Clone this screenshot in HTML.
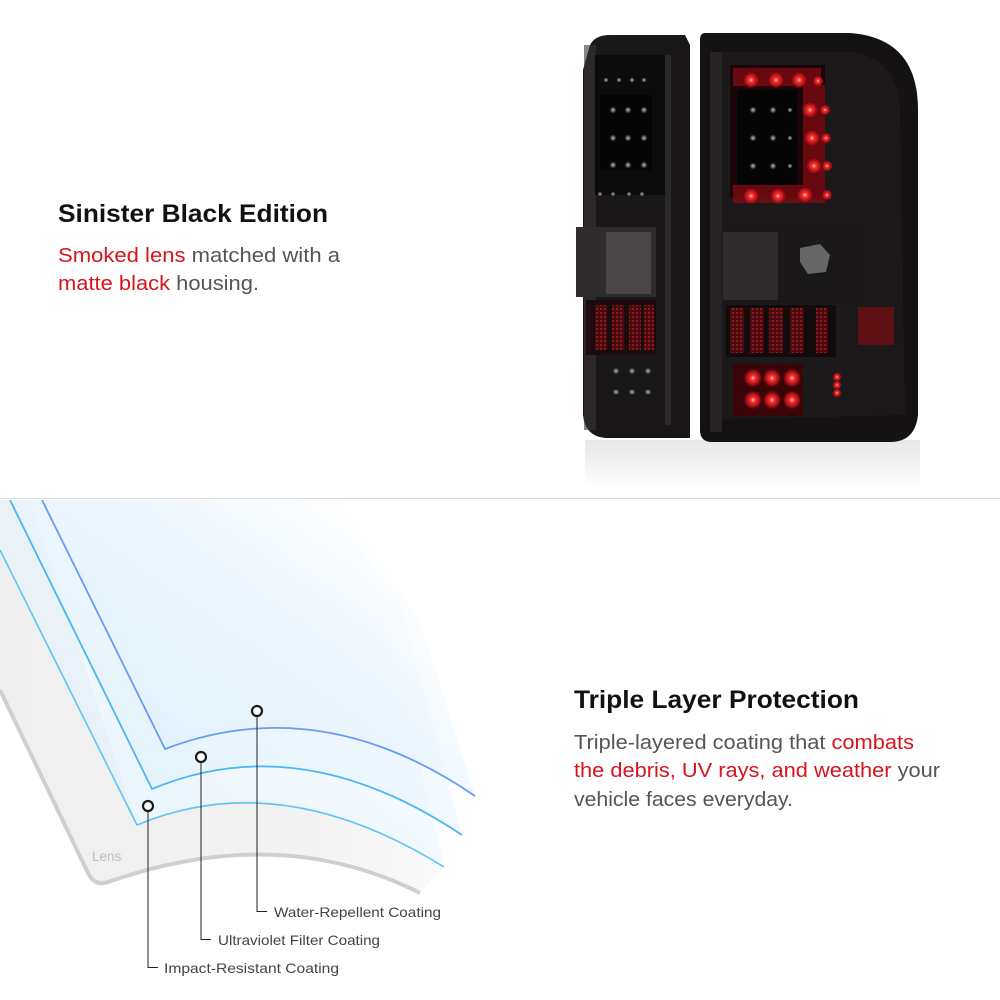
<!DOCTYPE html>
<html><head><meta charset="utf-8"><style>
html,body{margin:0;padding:0;background:#fff;}
svg{display:block;}
text{font-family:"Liberation Sans",Arial,sans-serif;}
</style></head><body>
<svg width="1000" height="1000" viewBox="0 0 1000 1000" xmlns="http://www.w3.org/2000/svg">
<defs>
<linearGradient id="lay" x1="0" y1="1" x2="1" y2="0">
<stop offset="0" stop-color="#ddeffb" stop-opacity="0.8"/>
<stop offset="0.6" stop-color="#eaf5fd" stop-opacity="0.5"/>
<stop offset="1" stop-color="#ffffff" stop-opacity="0"/>
</linearGradient>
<linearGradient id="lensg" x1="0" y1="0" x2="1" y2="0">
<stop offset="0" stop-color="#efefef"/>
<stop offset="0.7" stop-color="#f3f3f3"/>
<stop offset="1" stop-color="#fafafa"/>
</linearGradient>
<linearGradient id="refl" x1="0" y1="0" x2="0" y2="1">
<stop offset="0" stop-color="#d8d8d8"/>
<stop offset="1" stop-color="#ffffff"/>
</linearGradient>
<radialGradient id="led" cx="0.5" cy="0.5" r="0.5">
<stop offset="0" stop-color="#ffd0b0"/>
<stop offset="0.25" stop-color="#ff3030"/>
<stop offset="0.7" stop-color="#b01018" stop-opacity="0.8"/>
<stop offset="1" stop-color="#500008" stop-opacity="0"/>
</radialGradient>
<radialGradient id="gled" cx="0.5" cy="0.5" r="0.5">
<stop offset="0" stop-color="#bbbbbb"/>
<stop offset="0.5" stop-color="#555"/>
<stop offset="1" stop-color="#111" stop-opacity="0"/>
</radialGradient>
<pattern id="ref" width="4" height="4" patternUnits="userSpaceOnUse">
<rect width="4" height="4" fill="#4a0a0e"/>
<rect width="2" height="2" fill="#8a1a20"/>
</pattern>
</defs>

<text x="58" y="222" font-size="25" font-weight="bold" fill="#111" textLength="270" lengthAdjust="spacingAndGlyphs">Sinister Black Edition</text>
<text x="58" y="262" font-size="20" fill="#555" textLength="282" lengthAdjust="spacingAndGlyphs"><tspan fill="#d7141e">Smoked lens</tspan> matched with a</text>
<text x="58" y="290" font-size="20" fill="#555" textLength="201" lengthAdjust="spacingAndGlyphs"><tspan fill="#d7141e">matte black</tspan> housing.</text>

<rect x="585" y="440" width="335" height="50" fill="url(#refl)" opacity="0.6"/>

<!-- Left light -->
<path d="M590,45 Q595,35 610,35 L685,35 L690,45 L690,438 L605,438 Q585,436 583,415 L583,70 Z" fill="#1a1718"/>
<rect x="584" y="45" width="12" height="385" fill="#3a3637" opacity="0.6"/>
<rect x="595" y="55" width="70" height="140" fill="#0c0b0c"/>
<rect x="600" y="95" width="52" height="75" fill="#050505"/>
<g fill="url(#gled)">
<circle cx="606" cy="80" r="3"/><circle cx="619" cy="80" r="3"/><circle cx="632" cy="80" r="3"/><circle cx="644" cy="80" r="3"/>
<circle cx="613" cy="110" r="4"/><circle cx="628" cy="110" r="4"/><circle cx="644" cy="110" r="4"/>
<circle cx="613" cy="138" r="4"/><circle cx="628" cy="138" r="4"/><circle cx="644" cy="138" r="4"/>
<circle cx="613" cy="165" r="4"/><circle cx="628" cy="165" r="4"/><circle cx="644" cy="165" r="4"/>
<circle cx="600" cy="194" r="3"/><circle cx="613" cy="194" r="3"/><circle cx="629" cy="194" r="3"/><circle cx="642" cy="194" r="3"/>
<circle cx="616" cy="371" r="4"/><circle cx="632" cy="371" r="4"/><circle cx="648" cy="371" r="4"/>
<circle cx="616" cy="392" r="4"/><circle cx="632" cy="392" r="4"/><circle cx="648" cy="392" r="4"/>
</g>
<rect x="665" y="55" width="6" height="370" fill="#2c2929"/>
<rect x="576" y="227" width="80" height="70" fill="#2e2b2c"/>
<rect x="606" y="232" width="45" height="62" fill="#4a4647"/>
<rect x="586" y="300" width="70" height="55" fill="#1c0c0e"/>
<rect x="595" y="305" width="12" height="45" fill="url(#ref)"/>
<rect x="612" y="305" width="12" height="45" fill="url(#ref)"/>
<rect x="629" y="305" width="12" height="45" fill="url(#ref)"/>
<rect x="644" y="305" width="10" height="45" fill="url(#ref)"/>

<!-- Right light -->
<path d="M705,33 L850,33 Q918,38 918,110 L918,415 Q915,442 890,442 L712,442 Q700,442 700,430 L700,40 Q700,33 705,33 Z" fill="#151213"/>
<path d="M712,52 L850,52 Q898,58 900,110 L905,415 L712,420 Z" fill="#1c191a"/>
<rect x="710" y="52" width="12" height="380" fill="#262324"/>
<rect x="730" y="65" width="95" height="132" fill="#1a0608"/>
<rect x="737" y="90" width="60" height="95" fill="#060505"/>
<g fill="url(#gled)">
<circle cx="753" cy="110" r="4"/><circle cx="773" cy="110" r="4"/><circle cx="790" cy="110" r="3"/>
<circle cx="753" cy="138" r="4"/><circle cx="773" cy="138" r="4"/><circle cx="790" cy="138" r="3"/>
<circle cx="753" cy="166" r="4"/><circle cx="773" cy="166" r="4"/><circle cx="790" cy="166" r="3"/>
</g>
<rect x="733" y="68" width="88" height="18" fill="#7a0a12" opacity="0.8"/>
<rect x="803" y="85" width="22" height="100" fill="#7a0a12" opacity="0.8"/>
<rect x="733" y="185" width="92" height="18" fill="#7a0a12" opacity="0.8"/>
<g fill="url(#led)">
<circle cx="751" cy="80" r="9"/><circle cx="776" cy="80" r="9"/><circle cx="799" cy="80" r="9"/><circle cx="818" cy="81" r="6"/>
<circle cx="810" cy="110" r="9"/><circle cx="825" cy="110" r="6"/>
<circle cx="812" cy="138" r="9"/><circle cx="826" cy="138" r="6"/>
<circle cx="814" cy="166" r="9"/><circle cx="827" cy="166" r="6"/>
<circle cx="751" cy="196" r="9"/><circle cx="778" cy="196" r="9"/><circle cx="805" cy="195" r="9"/><circle cx="827" cy="195" r="6"/>
</g>
<rect x="722" y="230" width="143" height="72" fill="#1a1819"/>
<rect x="723" y="232" width="55" height="68" fill="#2e2b2c"/>
<path d="M800,248 L820,244 L830,255 L826,272 L808,274 L800,262 Z" fill="#666"/>
<rect x="726" y="305" width="110" height="52" fill="#120a0b"/>
<rect x="730" y="308" width="14" height="45" fill="url(#ref)"/>
<rect x="750" y="308" width="14" height="45" fill="url(#ref)"/>
<rect x="769" y="308" width="14" height="45" fill="url(#ref)"/>
<rect x="790" y="308" width="14" height="45" fill="url(#ref)"/>
<rect x="816" y="308" width="12" height="45" fill="url(#ref)"/>
<rect x="858" y="307" width="36" height="38" fill="#5e1014"/>
<rect x="733" y="364" width="70" height="52" fill="#3a0508"/>
<g fill="url(#led)">
<circle cx="753" cy="378" r="10"/><circle cx="772" cy="378" r="10"/><circle cx="792" cy="378" r="10"/>
<circle cx="753" cy="400" r="10"/><circle cx="772" cy="400" r="10"/><circle cx="792" cy="400" r="10"/>
<circle cx="837" cy="377" r="5"/><circle cx="837" cy="385" r="5"/><circle cx="837" cy="393" r="5"/>
</g>

<rect x="0" y="498" width="1000" height="1" fill="#dcdcdc"/>

<!-- Lens -->
<path d="M0,500 L30,500 L137,825 Q280,760 444,867 L420,893 Q300,820 105,882 Q95,886 90,876 L0,690 Z" fill="url(#lensg)"/>
<path d="M0,690 L88,873 Q95,887 108,882 Q280,822 420,893" fill="none" stroke="#cfcfcf" stroke-width="4" stroke-linejoin="round"/>
<text x="92" y="861" font-size="13.5" fill="#bdbdbd">Lens</text>

<!-- Layers -->
<path d="M0,550 L137,825 Q280,765 444,867 L380,600 L300,500 L0,500 Z" fill="url(#lay)"/>
<path d="M0,550 L137,825 Q280,765 444,867" fill="none" stroke="#5ec4f4" stroke-width="1.6"/>
<path d="M10,500 L152,789 Q300,727 462,835 L400,600 L320,500 Z" fill="url(#lay)"/>
<path d="M10,500 L152,789 Q300,727 462,835" fill="none" stroke="#4ab6f2" stroke-width="1.8"/>
<path d="M42,500 L165,749 Q320,690 475,796 L420,620 L340,500 Z" fill="url(#lay)"/>
<path d="M42,500 L165,749 Q320,690 475,796" fill="none" stroke="#6a9cf4" stroke-width="1.8"/>

<g fill="#fff" stroke="#1a1a1a" stroke-width="2.2">
<circle cx="148" cy="806" r="5"/>
<circle cx="201" cy="757" r="5"/>
<circle cx="257" cy="711" r="5"/>
</g>
<g fill="none" stroke="#222" stroke-width="1">
<path d="M148,811 V967.5 H158"/>
<path d="M201,762 V939.5 H211"/>
<path d="M257,716 V911.5 H267"/>
</g>
<g font-size="14" fill="#444">
<text x="274" y="917" textLength="167" lengthAdjust="spacingAndGlyphs">Water-Repellent Coating</text>
<text x="218" y="945" textLength="162" lengthAdjust="spacingAndGlyphs">Ultraviolet Filter Coating</text>
<text x="164" y="973" textLength="175" lengthAdjust="spacingAndGlyphs">Impact-Resistant Coating</text>
</g>

<text x="574" y="708" font-size="25" font-weight="bold" fill="#111" textLength="285" lengthAdjust="spacingAndGlyphs">Triple Layer Protection</text>
<text x="574" y="749" font-size="20" fill="#555" textLength="340" lengthAdjust="spacingAndGlyphs">Triple-layered coating that <tspan fill="#d7141e">combats</tspan></text>
<text x="574" y="777" font-size="20" fill="#555" textLength="366" lengthAdjust="spacingAndGlyphs"><tspan fill="#d7141e">the debris, UV rays, and weather</tspan> your</text>
<text x="574" y="806" font-size="20" fill="#555" textLength="219" lengthAdjust="spacingAndGlyphs">vehicle faces everyday.</text>
</svg>
</body></html>
